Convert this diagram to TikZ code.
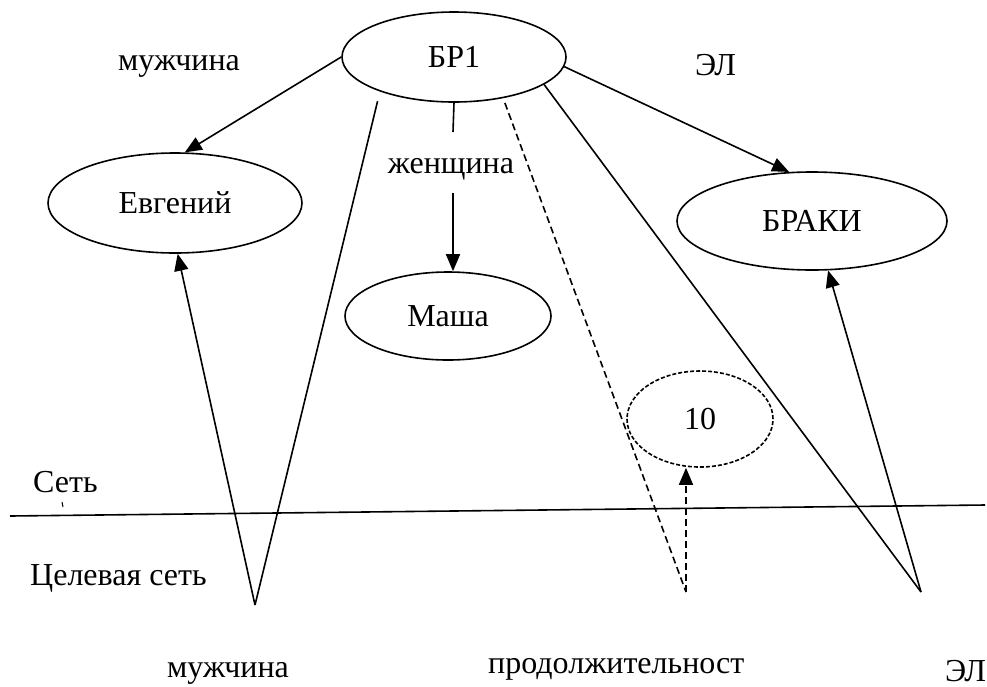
\documentclass[tikz,border=0pt]{standalone}
\usepackage{fontspec}
\setmainfont{Liberation Serif}
\usetikzlibrary{shapes.geometric,arrows.meta}
\begin{document}
\begin{tikzpicture}[x=1pt,y=-1pt,
  every node/.style={font=\fontsize{32}{38}\selectfont},
  oval/.style={draw,ellipse,line width=1.6pt,inner sep=0pt},
  link/.style={line width=1.6pt},
  tip/.style={-{Triangle[length=17pt,width=14pt]}},
  arr/.style={link,tip},
  dlink/.style={link,dash pattern=on 7pt off 4pt},
  txt/.style={inner sep=0pt,anchor=base west}]
\useasboundingbox (0,0) rectangle (987,686);

% concept ellipses
\node[oval,minimum width=224pt,minimum height=90pt] (br1) at (454,57) {БР1};
\node[oval,minimum width=254pt,minimum height=100pt] (evg) at (175,203) {Евгений};
\node[oval,minimum width=206pt,minimum height=88pt] (masha) at (448,316) {Маша};
\node[oval,minimum width=270pt,minimum height=98pt] (braki) at (812,221) {БРАКИ};
\node[oval,dash pattern=on 4pt off 2pt,minimum width=146pt,minimum height=96pt] (ten) at (700,419) {10};

% free labels
\node[txt] (m1) at (118,70) {мужчина};
\node[txt] (el1) at (695,75) {ЭЛ};
\node[inner sep=0pt,anchor=base] (wl) at (451,173) {женщина};
\node[txt] (net) at (33,492) {Сеть};
\node[txt] (tnet) at (30,585) {Целевая сеть};
\node[txt] (m2) at (167,677) {мужчина};
\node[txt] (dur) at (488,673) {продолжительност};
\node[txt] (el2) at (945,681) {ЭЛ};

% separator between the two nets
\coordinate (hl) at (10,516);
\coordinate (hr) at (985,505);
\draw[link] (hl) -- (hr);
\draw[line width=1pt] (62,502) -- (63,507);

% bend points of the target-net links
\coordinate (lv) at (255,605);
\coordinate (dv) at (686,592);
\coordinate (rv) at (921,592);
\coordinate (wa) at (453,132);
\coordinate (wb) at (453,193);

% links
\draw[arr] (br1.west) -- (evg.79);
\draw[link] (br1.south) -- (wa);
\draw[arr] (wb) -- (wb |- masha.north);
\draw[arr] (br1.-5) -- (braki.115);
\draw[dlink,shorten <=5pt] (br1.-40) -- (dv);
\draw[dlink,tip] (dv) -- (dv |- ten.south);
\draw[link] (br1.-17) -- (rv);
\draw[arr] (rv) -- (braki.-72);
\draw[link,shorten <=10pt] (br1.-155) -- (lv);
\draw[arr] (lv) -- (evg.-87);
\end{tikzpicture}
\end{document}
